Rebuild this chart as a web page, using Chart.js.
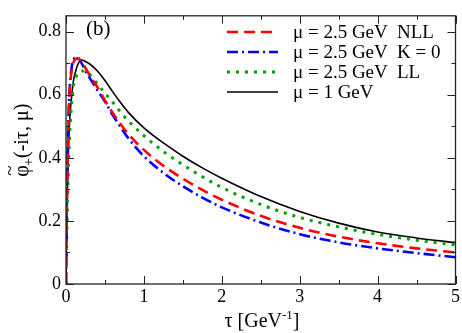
<!DOCTYPE html>
<html>
<head>
<meta charset="utf-8">
<script src="https://cdn.jsdelivr.net/npm/chart.js@4/dist/chart.umd.min.js"></script>
<style>
  html, body { margin: 0; padding: 0; background: #fff; }
  canvas { display: block; }
</style>
</head>
<body>
<canvas id="grafico" width="462" height="333"></canvas>
<script>
// tau in GeV^-1
const tau   = [0, 0.01, 0.02, 0.035, 0.05, 0.075, 0.1, 0.125, 0.15, 0.2, 0.25, 0.3, 0.4, 0.5, 0.6, 0.7, 0.8, 1.0, 1.25, 1.5, 1.75, 2, 2.5, 3, 3.5, 4, 4.5, 5];
const nll   = [0, 0.22, 0.38, 0.53, 0.62, 0.68, 0.705, 0.713, 0.715, 0.705, 0.685, 0.663, 0.625, 0.582, 0.542, 0.507, 0.475, 0.425, 0.375, 0.334, 0.298, 0.267, 0.216, 0.178, 0.150, 0.129, 0.113, 0.10];
const k0    = [0, 0.25, 0.42, 0.55, 0.63, 0.69, 0.712, 0.719, 0.718, 0.70, 0.675, 0.655, 0.615, 0.578, 0.535, 0.498, 0.462, 0.405, 0.352, 0.31, 0.274, 0.243, 0.195, 0.158, 0.132, 0.113, 0.098, 0.085];
const ll    = [0, 0.15, 0.27, 0.40, 0.49, 0.58, 0.635, 0.655, 0.667, 0.675, 0.674, 0.665, 0.635, 0.605, 0.576, 0.545, 0.517, 0.47, 0.42, 0.378, 0.34, 0.306, 0.252, 0.211, 0.181, 0.157, 0.139, 0.124];
const mu1   = [0, 0.2, 0.32, 0.45, 0.53, 0.60, 0.65, 0.675, 0.695, 0.71, 0.705, 0.698, 0.676, 0.645, 0.609, 0.575, 0.544, 0.495, 0.447, 0.405, 0.368, 0.335, 0.277, 0.23, 0.193, 0.165, 0.146, 0.131];

const xTicks = [0, 1, 2, 3, 4, 5];
const yTicks = [0, 0.2, 0.4, 0.6, 0.8];
const labelsMu   = ["\u03bc = 2.5 GeV", "\u03bc = 2.5 GeV", "\u03bc = 2.5 GeV", "\u03bc = 1 GeV"];
const labelsTipo = ["NLL", "K = 0", "LL", ""];

const serif = "'Liberation Serif', 'DejaVu Serif', serif";

function pontos(ys) {
  return tau.map((t, i) => ({ x: t, y: ys[i] }));
}

const series = [
  { data: nll, color: "#ff0000", width: 2.6, dash: [11, 6] },
  { data: k0,  color: "#0000ff", width: 2.6, dash: [11, 4, 2, 4] },
  { data: ll,  color: "#00a000", width: 3,   dash: [3, 6] },
  { data: mu1, color: "#000000", width: 1.6, dash: [] }
];

const molduraPlugin = {
  id: "moldura",
  afterDraw(chart) {
    const ctx = chart.ctx;
    const a = chart.chartArea;
    const xs = chart.scales.x, ys = chart.scales.y;
    ctx.save();
    ctx.textAlign = "left";
    ctx.strokeStyle = "#222";
    ctx.lineWidth = 1.3;
    ctx.setLineDash([]);
    ctx.strokeRect(a.left, a.top, a.right - a.left, a.bottom - a.top);

    // ticks on all four sides, pointing inwards
    ctx.lineWidth = 1;
    ctx.beginPath();
    for (let v = 0; v <= 5.001; v += 0.5) {
      const px = Math.round(xs.getPixelForValue(v)) + 0.5;
      const len = Math.abs(v - Math.round(v)) < 0.01 ? 8 : 4;
      ctx.moveTo(px, a.bottom); ctx.lineTo(px, a.bottom - len);
      ctx.moveTo(px, a.top); ctx.lineTo(px, a.top + len);
    }
    for (let k = 0; k <= 8; k++) {
      const v = k / 10;
      const py = Math.round(ys.getPixelForValue(v)) + 0.5;
      const len = k % 2 === 0 ? 8 : 4;
      ctx.moveTo(a.left, py); ctx.lineTo(a.left + len, py);
      ctx.moveTo(a.right, py); ctx.lineTo(a.right - len, py);
    }
    ctx.stroke();

    // legend
    ctx.font = "19px " + serif;
    ctx.fillStyle = "#000";
    ctx.textBaseline = "middle";
    series.forEach((s, i) => {
      const y = 32 + i * 20;
      ctx.strokeStyle = s.color;
      ctx.lineWidth = s.width;
      ctx.setLineDash(s.dash);
      ctx.beginPath();
      ctx.moveTo(227, y); ctx.lineTo(278, y);
      ctx.stroke();
      ctx.setLineDash([]);
      ctx.fillText(labelsMu[i], 293, y + 1);
      if (labelsTipo[i]) ctx.fillText(labelsTipo[i], 397, y + 1);
    });

    // panel label
    ctx.textBaseline = "alphabetic";
    ctx.font = "21px " + serif;
    ctx.fillText("(b)", 86, 35);

    // x title
    const partesX = [["\u03c4 [GeV", 20, 0], ["-1", 13, -8], ["]", 20, 0]];
    let larg = 0;
    partesX.forEach(p => { ctx.font = p[1] + "px " + serif; larg += ctx.measureText(p[0]).width; });
    let cx = 262 - larg / 2;
    partesX.forEach(p => {
      ctx.font = p[1] + "px " + serif;
      ctx.fillText(p[0], cx, 327 + p[2]);
      cx += ctx.measureText(p[0]).width;
    });

    // y title (rotated)
    ctx.translate(28, 140);
    ctx.rotate(-Math.PI / 2);
    const partesY = [["\u03c6", 20, 0], ["+", 14, 5], ["(-i\u03c4, \u03bc)", 20, 0]];
    larg = 0;
    partesY.forEach(p => { ctx.font = p[1] + "px " + serif; larg += ctx.measureText(p[0]).width; });
    cx = -larg / 2;
    partesY.forEach((p, i) => {
      ctx.font = p[1] + "px " + serif;
      ctx.fillText(p[0], cx, p[2]);
      if (i === 0) {
        ctx.font = "19px " + serif;
        ctx.fillText("~", cx + 1, -12);
      }
      cx += ctx.measureText(p[0]).width;
    });
    ctx.restore();
  }
};

new Chart(document.getElementById("grafico"), {
  type: "scatter",
  data: {
    datasets: series.map((s, i) => ({
      label: labelsMu[i] + " " + labelsTipo[i],
      data: pontos(s.data),
      showLine: true,
      borderColor: s.color,
      borderWidth: s.width,
      borderDash: s.dash,
      pointRadius: 0,
      cubicInterpolationMode: "monotone",
      fill: false
    }))
  },
  options: {
    responsive: false,
    animation: false,
    devicePixelRatio: 1,
    layout: { padding: { left: 0, top: 3, right: 5, bottom: 0 } },
    plugins: { legend: { display: false }, tooltip: { enabled: false } },
    scales: {
      x: {
        type: "linear",
        min: 0, max: 5,
        grid: { display: false, drawTicks: false },
        border: { display: false },
        afterBuildTicks: s => { s.ticks = xTicks.map(v => ({ value: v })); },
        afterFit: s => { s.height = 49; },
        ticks: { color: "#000", font: { family: serif, size: 18 }, padding: 2, maxRotation: 0,
                 callback: v => String(v) }
      },
      y: {
        min: 0, max: 0.85,
        grid: { display: false, drawTicks: false },
        border: { display: false },
        afterBuildTicks: s => { s.ticks = yTicks.map(v => ({ value: v })); },
        afterFit: s => { s.width = 66; },
        ticks: { color: "#000", font: { family: serif, size: 18 }, padding: 5,
                 callback: v => v === 0 ? "0" : String(Math.round(v * 10) / 10) }
      }
    }
  },
  plugins: [molduraPlugin]
});
</script>
</body>
</html>
